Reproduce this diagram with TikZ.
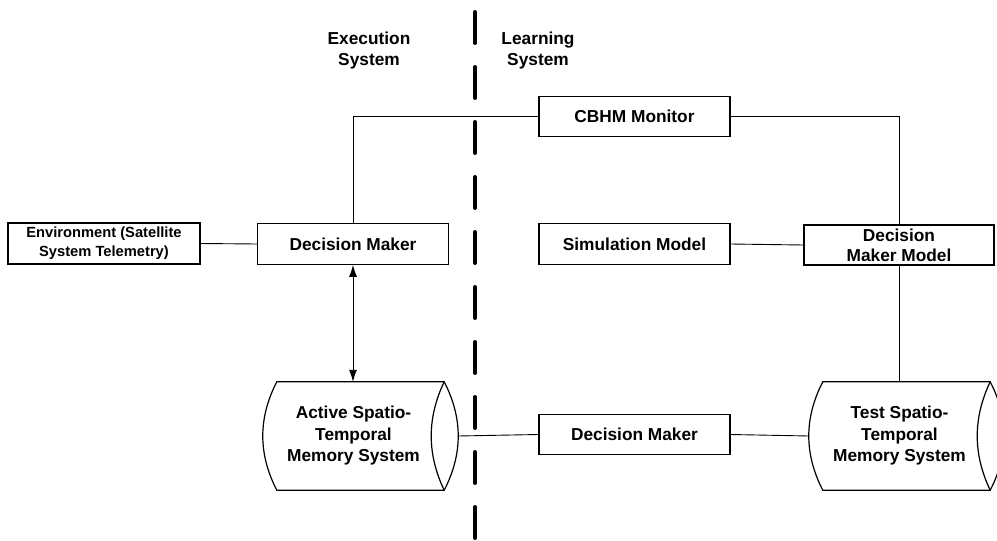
\documentclass[tikz,border=0pt]{standalone}
\usepackage{fontspec}
\setmainfont{Liberation Sans}
\usetikzlibrary{arrows.meta,calc}

% outline of a horizontal drum (stored data); the node covers the body,
% the right cap bulges 14 units past its east side
\newcommand{\drumoutline}[1]{%
  \draw[boxline]
    ([xshift=14]#1.north west) -- (#1.north east)
    .. controls ([shift={(18.7,-18)}]#1.east) and ([shift={(18.7,18)}]#1.east) ..
    (#1.south east) -- ([xshift=14]#1.south west)
    .. controls ([shift={(-4.7,18)}]#1.west) and ([shift={(-4.7,-18)}]#1.west) ..
    cycle;
  \draw[boxline]
    (#1.north east)
    .. controls ([shift={(-17.3,-18)}]#1.east) and ([shift={(-17.3,18)}]#1.east) ..
    (#1.south east);
}

\tikzset{
  x=1pt, y=-1pt,
  boxline/.style={line width=1.2pt, draw=black},
  label/.style={font=\fontsize{17.3}{21}\selectfont\bfseries, align=center, inner sep=0pt},
  stepbox/.style={boxline, rectangle, font=\fontsize{17.3}{20}\selectfont\bfseries,
    align=center, inner sep=0pt, minimum width=191, minimum height=40.5},
  smallbox/.style={stepbox, font=\fontsize{14.7}{19}\selectfont\bfseries,
    minimum width=192, minimum height=41},
  drum/.style={rectangle, inner sep=0pt, align=center,
    font=\fontsize{17.3}{21.5}\selectfont\bfseries,
    minimum width=181, minimum height=108},
  wire/.style={line width=0.9pt, draw=black},
  divider/.style={line width=4pt, line cap=round, dash pattern=on 31 off 24},
}

\begin{document}
\begin{tikzpicture}
\useasboundingbox (0,0) rectangle (997,541);
\clip (0,0) rectangle (997,541);

% dividing line between the two systems
\coordinate (divtop) at (475,12);
\coordinate (divbot) at (475,560);
\draw[divider] (divtop) -- (divbot);

\node[label] (exec) at (369,51) {Execution\\System};
\node[label] (learn) at (538,51) {Learning\\System};

% boxes
\node[stepbox] (cbhm) at (634.5,116.5) {CBHM Monitor};
\node[smallbox] (env) at (104,243.5) {Environment (Satellite\\System Telemetry)};
\node[stepbox] (dm) at (353,244) {Decision Maker};
\node[stepbox] (sim) at (634.5,244) {Simulation Model};
\node[stepbox, minimum width=190, minimum height=40] (dmm) at (899,245) {Decision\\Maker Model};
\node[stepbox] (dm2) at (634.5,434.5) {Decision Maker};

% memory drums
\node[drum] (act) at (353.5,436) {Active Spatio-\\Temporal\\Memory System};
\drumoutline{act}
\node[drum] (test) at (899.5,436) {Test Spatio-\\Temporal\\Memory System};
\drumoutline{test}

% connectors
\draw[wire] (cbhm.west) -| (dm.north);
\draw[wire] (cbhm.east) -| (dmm.north);
\draw[wire] (env.east) -- (dm.west);
\draw[wire] (sim.east) -- (dmm.west);
\draw[wire] (dmm.south) -- (dmm.south |- test.north);
\draw[wire] ([xshift=14]act.east) -- (dm2.west);
\draw[wire] (dm2.east) -- (test.west);
\draw[wire, {Latex[length=12,width=8]}-{Latex[length=12,width=8]}]
  (dm.south) -- (dm.south |- act.north);
\end{tikzpicture}
\end{document}
